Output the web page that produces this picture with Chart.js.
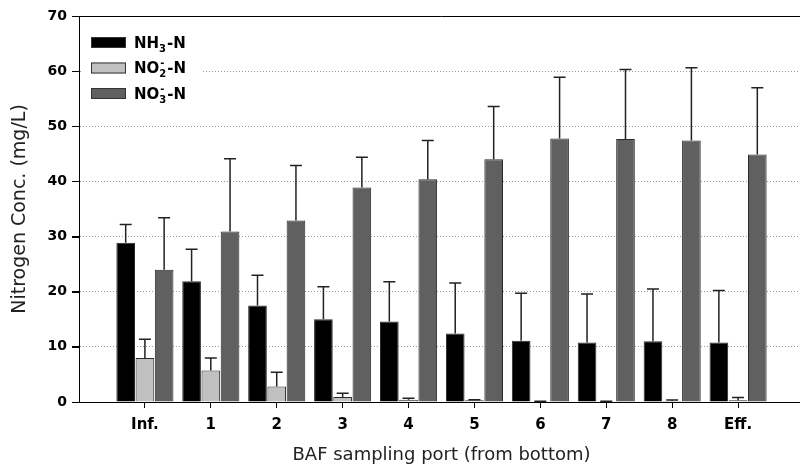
<!DOCTYPE html>
<html>
<head>
<meta charset="utf-8">
<script src="https://cdn.jsdelivr.net/npm/chart.js@4.4.0/dist/chart.umd.min.js"></script>
<style>
  html, body { margin: 0; padding: 0; background: #fff; overflow: hidden; }
  #wrap { width: 812px; height: 471px; }
</style>
</head>
<body>
<div id="wrap"><canvas id="chart"></canvas></div>
<script>
// Dados (mg/L)
const categories = ['Inf.', '1', '2', '3', '4', '5', '6', '7', '8', 'Eff.'];
const nh3 = [28.9, 21.9, 17.5, 15.0, 14.6, 12.4, 11.1, 10.8, 11.0, 10.8];
const nh3Err = [3.3, 5.8, 5.5, 5.9, 7.2, 9.2, 8.6, 8.8, 9.5, 9.4];
const no2 = [8.0, 5.7, 2.8, 0.9, 0.4, 0.3, 0.1, 0.1, 0.2, 0.3];
const no2Err = [3.4, 2.3, 2.6, 0.7, 0.3, 0.1, 0.05, 0.05, 0.15, 0.5];
const no3 = [24.0, 30.9, 32.9, 38.9, 40.4, 44.0, 47.8, 47.7, 47.4, 44.9];
const no3Err = [9.4, 13.2, 10.0, 5.5, 7.0, 9.6, 11.1, 12.6, 13.2, 12.1];
const yTicks = [0, 10, 20, 30, 40, 50, 60, 70];

const FONT = 'DejaVu Sans';

// categorias vazias nas pontas para deixar espaço como no original
const pad = arr => [null, ...arr, null];
const labels = pad(categories).map(c => c == null ? '' : c);

const errorBars = {
    id: 'errorBars',
    afterDatasetsDraw(chart) {
        const ctx = chart.ctx;
        const y = chart.scales.y;
        chart.data.datasets.forEach((ds, di) => {
            const meta = chart.getDatasetMeta(di);
            meta.data.forEach((bar, i) => {
                const v = ds.data[i];
                const e = ds.err[i];
                if (v == null || e == null) return;
                const top = y.getPixelForValue(v + e);
                ctx.save();
                ctx.strokeStyle = '#222';
                ctx.lineWidth = 1.5;
                ctx.beginPath();
                ctx.moveTo(bar.x, bar.y);
                ctx.lineTo(bar.x, top);
                ctx.moveTo(bar.x - 6, top);
                ctx.lineTo(bar.x + 6, top);
                ctx.stroke();
                ctx.restore();
            });
        });
    }
};

const frame = {
    id: 'frame',
    afterDraw(chart) {
        const { ctx, chartArea } = chart;
        const ys = chart.scales.y;
        ctx.save();
        ctx.strokeStyle = '#000';
        ctx.lineWidth = 1;
        ctx.setLineDash([]);
        ctx.beginPath();
        ctx.moveTo(chartArea.left, chartArea.top + 0.5);
        ctx.lineTo(chartArea.right, chartArea.top + 0.5);
        // marcas do eixo y
        yTicks.forEach(v => {
            const py = Math.round(ys.getPixelForValue(v)) + 0.5;
            ctx.moveTo(chartArea.left - 7, py);
            ctx.lineTo(chartArea.left, py);
        });
        ctx.stroke();

        // legenda dentro da área do gráfico
        const x0 = chartArea.left;
        ctx.fillStyle = '#fff';
        ctx.fillRect(x0 + 2, 30, 122, 80);
        const items = [
            { color: '#000000', base: 'NH', sub: '3', sup: '' },
            { color: '#c0c0c0', base: 'NO', sub: '2', sup: '-' },
            { color: '#606060', base: 'NO', sub: '3', sup: '-' }
        ];
        items.forEach((it, k) => {
            const cy = 42.5 + k * 25.5;
            ctx.fillStyle = it.color;
            ctx.fillRect(91, cy - 5.5, 35, 11);
            ctx.strokeStyle = '#333';
            ctx.strokeRect(91.5, cy - 5, 34, 10);
            ctx.fillStyle = '#000';
            ctx.textBaseline = 'alphabetic';
            ctx.textAlign = 'left';
            ctx.font = 'bold 15px "' + FONT + '"';
            let tx = 134;
            const by = cy + 5;
            ctx.fillText(it.base, tx, by);
            tx += ctx.measureText(it.base).width;
            ctx.font = 'bold 10px "' + FONT + '"';
            ctx.fillText(it.sub, tx, by + 4);
            let w = ctx.measureText(it.sub).width;
            if (it.sup) {
                ctx.fillText(it.sup, tx + 1, by - 7);
                w = Math.max(w, ctx.measureText(it.sup).width + 1);
            }
            tx += w + 1;
            ctx.font = 'bold 15px "' + FONT + '"';
            ctx.fillText('-N', tx, by);
        });
        ctx.restore();
    }
};

new Chart(document.getElementById('chart'), {
    type: 'bar',
    data: {
        labels: labels,
        datasets: [
            { label: 'NH3-N', data: pad(nh3), err: pad(nh3Err), backgroundColor: '#000000' },
            { label: 'NO2-N', data: pad(no2), err: pad(no2Err), backgroundColor: '#c0c0c0' },
            { label: 'NO3-N', data: pad(no3), err: pad(no3Err), backgroundColor: '#606060' }
        ].map(d => Object.assign(d, {
            borderColor: '#2a2a2a',
            borderWidth: 1,
            categoryPercentage: 0.875,
            barPercentage: 0.97
        }))
    },
    options: {
        responsive: true,
        maintainAspectRatio: false,
        animation: false,
        layout: { padding: { top: 16, right: 4, left: 0, bottom: 0 } },
        plugins: {
            legend: { display: false },
            tooltip: { enabled: false }
        },
        scales: {
            x: {
                offset: false,
                grid: {
                    offset: false, drawOnChartArea: false, drawTicks: true,
                    tickLength: 6, tickWidth: 1, tickBorderDash: [],
                    tickColor: c => labels[c.index] === '' ? 'transparent' : '#000'
                },
                border: { display: true, color: '#000', width: 1 },
                ticks: {
                    autoSkip: false, maxRotation: 0, padding: 8, color: '#000',
                    font: { family: FONT, size: 15, weight: 'bold' }
                },
                title: {
                    display: true, text: 'BAF sampling port (from bottom)', color: '#222',
                    font: { family: FONT, size: 18 }, padding: { top: 10, bottom: 5 }
                },
                afterFit: s => { s.height = 69; }
            },
            y: {
                min: 0, max: 70,
                afterBuildTicks: s => { s.ticks = yTicks.map(v => ({ value: v })); },
                grid: {
                    color: c => (c.tick.value === 0 || c.tick.value === 70) ? 'transparent' : '#999',
                    tickColor: '#000', tickLength: 7, tickWidth: 1, tickBorderDash: [], drawTicks: true
                },
                border: { display: true, color: '#000', width: 1, dash: [1, 2] },
                ticks: {
                    padding: 5, color: '#000',
                    font: { family: FONT, size: 14, weight: 'bold' }
                },
                title: {
                    display: true, text: 'Nitrogen Conc. (mg/L)', color: '#222',
                    font: { family: FONT, size: 19 }, padding: { top: 9, bottom: 0 }
                },
                afterFit: s => { s.width = 79; }
            }
        }
    },
    plugins: [errorBars, frame]
});
</script>
</body>
</html>
